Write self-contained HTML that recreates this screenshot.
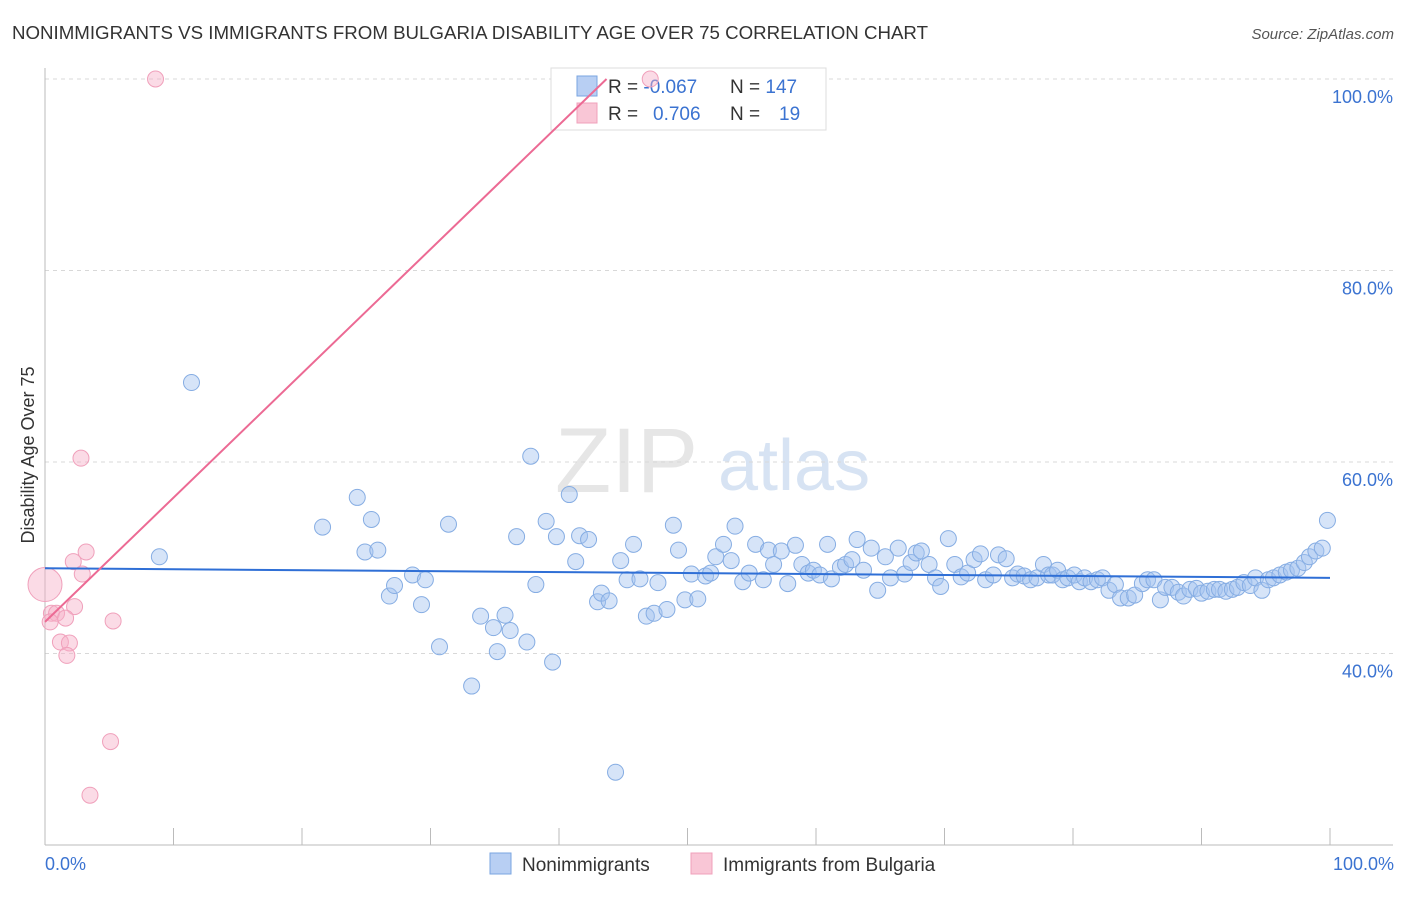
<!DOCTYPE html>
<html><head><meta charset="utf-8">
<style>
body{margin:0;background:#fff;font-family:"Liberation Sans",sans-serif;}
svg text{font-family:"Liberation Sans",sans-serif;}
</style></head>
<body>
<svg width="1406" height="892" xmlns="http://www.w3.org/2000/svg">
<text x="12" y="39" font-size="18" fill="#333" textLength="916" lengthAdjust="spacingAndGlyphs">NONIMMIGRANTS VS IMMIGRANTS FROM BULGARIA DISABILITY AGE OVER 75 CORRELATION CHART</text>
<text x="1394" y="39" font-size="15" fill="#555" font-style="italic" text-anchor="end">Source: ZipAtlas.com</text>
<g>
<text x="555" y="492" font-size="92" fill="#e6e6e6" font-family="Liberation Serif">ZIP</text>
<text x="718" y="490" font-size="72" fill="#d7e3f3">atlas</text>
</g>
<g id="grid"></g>
<g id="axes"></g>
<g>
<rect x="551" y="68" width="275" height="62" fill="#fff" stroke="#ddd"/>
<rect x="577" y="76" width="20" height="20" fill="#b8cff3" stroke="#7aa5e0"/>
<rect x="577" y="103" width="20" height="20" fill="#f9c6d6" stroke="#f0a0bb"/>
<text x="608" y="93" font-size="19" fill="#333">R = <tspan fill="#3b73d1">-0.067</tspan><tspan x="730">N = </tspan><tspan fill="#3b73d1">147</tspan></text>
<text x="608" y="120" font-size="19" fill="#333">R = <tspan x="653" fill="#3b73d1">0.706</tspan><tspan x="730">N = </tspan><tspan x="779" fill="#3b73d1">19</tspan></text>
</g>
<g id="marks"></g>
<text transform="translate(34,455) rotate(-90)" font-size="18" fill="#333" text-anchor="middle">Disability Age Over 75</text>
<text x="45" y="870" font-size="18" fill="#3b73d1">0.0%</text>
<text x="1394" y="870" font-size="18" fill="#3b73d1" text-anchor="end">100.0%</text>
<g>
<rect x="490" y="853" width="21" height="21" fill="#b8cff3" stroke="#7aa5e0"/>
<text x="522" y="871" font-size="19" fill="#333">Nonimmigrants</text>
<rect x="691" y="853" width="21" height="21" fill="#f9c6d6" stroke="#f0a0bb"/>
<text x="723" y="871" font-size="19" fill="#333">Immigrants from Bulgaria</text>
</g>
</svg>
<script>
const yTicks=[100,80,60,40];
const yTickLabels=["100.0%","80.0%","60.0%","40.0%"];
const blueX=[11.4,8.9,21.6,24.3,25.4,24.9,25.9,26.8,27.2,29.3,28.6,29.6,30.7,31.4,33.2,33.9,34.9,35.2,35.8,36.2,36.7,37.5,37.8,38.2,39.0,39.5,39.8,40.8,41.3,41.6,42.3,43.0,43.3,43.9,44.4,44.8,45.3,45.8,46.3,46.8,47.4,47.7,48.4,48.9,49.3,49.8,50.3,50.8,51.4,51.8,52.2,52.8,53.4,53.7,54.3,54.8,55.3,55.9,56.3,56.7,57.3,57.8,58.4,58.9,59.4,59.8,60.3,60.9,61.2,61.9,62.3,62.8,63.2,63.7,64.3,64.8,65.4,65.8,66.4,66.9,67.4,67.8,68.2,68.8,69.3,69.7,70.3,70.8,71.3,71.8,72.3,72.8,73.2,73.8,74.2,74.8,75.3,75.7,76.2,76.7,77.2,77.7,78.1,78.4,78.8,79.2,79.6,80.1,80.5,80.9,81.4,81.9,82.3,82.8,83.3,83.7,84.3,84.8,85.4,85.8,86.3,86.8,87.2,87.7,88.2,88.6,89.1,89.6,90.0,90.5,91.0,91.4,91.9,92.4,92.8,93.3,93.8,94.2,94.7,95.2,95.6,96.1,96.6,97.0,97.5,98.0,98.4,98.9,99.4,99.8];
const blueY=[68.3,50.1,53.2,56.3,54.0,50.6,50.8,46.0,47.1,45.1,48.2,47.7,40.7,53.5,36.6,43.9,42.7,40.2,44.0,42.4,52.2,41.2,60.6,47.2,53.8,39.1,52.2,56.6,49.6,52.3,51.9,45.4,46.3,45.5,27.6,49.7,47.7,51.4,47.8,43.9,44.2,47.4,44.6,53.4,50.8,45.6,48.3,45.7,48.1,48.4,50.1,51.4,49.7,53.3,47.5,48.4,51.4,47.7,50.8,49.3,50.7,47.3,51.3,49.3,48.4,48.7,48.2,51.4,47.8,49.0,49.3,49.8,51.9,48.7,51.0,46.6,50.1,47.9,51.0,48.3,49.5,50.5,50.7,49.3,47.9,47.0,52.0,49.3,48.0,48.4,49.8,50.4,47.7,48.2,50.3,49.9,47.9,48.3,48.1,47.7,47.9,49.3,48.2,48.2,48.7,47.7,47.9,48.2,47.5,47.9,47.5,47.7,47.9,46.6,47.2,45.8,45.8,46.1,47.3,47.7,47.7,45.6,46.9,46.9,46.4,46.0,46.7,46.8,46.3,46.5,46.7,46.7,46.5,46.7,46.9,47.4,47.1,47.9,46.6,47.7,47.9,48.2,48.5,48.7,48.9,49.5,50.1,50.7,51.0,53.9];
const pinkX=[8.6,47.1,2.8,3.2,2.2,2.9,0,2.3,0.5,0.9,1.6,0.4,5.3,1.2,1.9,1.7,5.1,3.5];
const pinkY=[100,100,60.4,50.6,49.6,48.3,47.2,44.9,44.2,44.2,43.7,43.3,43.4,41.2,41.1,39.8,30.8,25.2];
const pinkR=[8,8,8,8,8,8,17,8,8,8,8,8,8,8,8,8,8,8];
const blueTrend=[48.9,47.9];
const pinkTrend=[43.3,100];const pinkTrendEndX=43.7;

const NS="http://www.w3.org/2000/svg";
const X0=45,X1=1330,Y0=845,Y1=79;
function xs(v){return X0+(X1-X0)*v/100;}
function ys(v){return Y0-(Y0-Y1)*(v-20)/80;}
function mk(tag,attrs,parent){const e=document.createElementNS(NS,tag);for(const k in attrs)e.setAttribute(k,attrs[k]);parent.appendChild(e);return e;}
const grid=document.getElementById('grid'),axes=document.getElementById('axes'),marks=document.getElementById('marks');
yTicks.forEach((t,i)=>{
 const l=mk('line',{x1:45,x2:1393,y1:ys(t),y2:ys(t),stroke:'#d8d8d8','stroke-dasharray':'4,4'},grid);
 
 
 const tx=mk('text',{x:1393,y:ys(t)+24,'font-size':18,fill:'#3b73d1','text-anchor':'end'},grid);
 tx.textContent=yTickLabels[i];
 
 
});
const ax=mk('line',{x1:45,x2:1393,y1:845,y2:845,stroke:'#bbb'},axes);


const ay=mk('line',{x1:45,x2:45,y1:68,y2:845,stroke:'#bbb'},axes);


for(let i=0;i<=10;i++){
 const t=mk('line',{x1:xs(i*10),x2:xs(i*10),y1:828,y2:845,stroke:'#bbb'},axes);
 
 
}
const n=Math.min(blueX.length,blueY.length);
for(let i=0;i<n;i++){
 const c=mk('circle',{cx:xs(blueX[i]),cy:ys(blueY[i]),r:8,fill:'rgba(165,195,240,0.45)',stroke:'#86ade3','stroke-width':1},marks);
 
 
}
for(let i=0;i<pinkX.length;i++){
 const c=mk('circle',{cx:xs(pinkX[i]),cy:ys(pinkY[i]),r:pinkR[i],fill:'rgba(247,175,200,0.45)',stroke:'#f0a0bb','stroke-width':1},marks);
 
 
}
const bl=mk('line',{x1:xs(0),y1:ys(blueTrend[0]),x2:xs(100),y2:ys(blueTrend[1]),stroke:'#2f6fd6','stroke-width':2},marks);


const pl=mk('line',{x1:xs(0),y1:ys(pinkTrend[0]),x2:xs(pinkTrendEndX),y2:ys(pinkTrend[1]),stroke:'#ec6a94','stroke-width':2},marks);


</script>
</body></html>
